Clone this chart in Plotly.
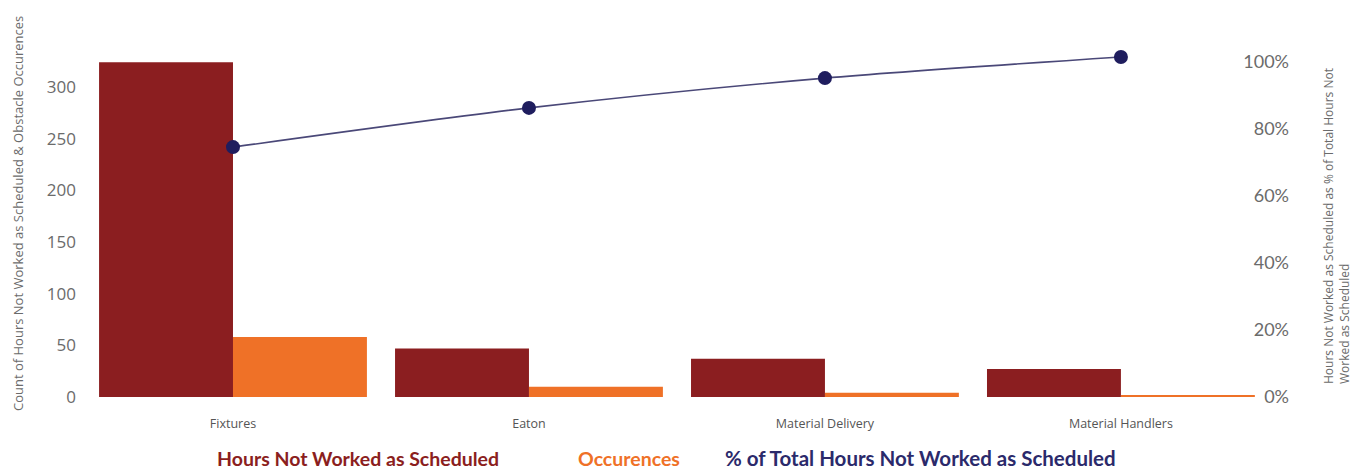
import plotly.graph_objects as go

categories = ["Fixtures", "Eaton", "Material Delivery", "Material Handlers"]
hours_not_worked = [324, 47, 37, 27]
occurences = [58, 10, 4, 2]
pct_total = [0.746, 0.863, 0.952, 1.015]

left_ticks = [0, 50, 100, 150, 200, 250, 300]
right_ticks = [0, 0.2, 0.4, 0.6, 0.8, 1.0]

RED = "#8B1E20"
ORANGE = "#EF7127"
NAVY = "#1F1D5E"
LINE = "#4A4878"
GREY = "#6b6b6b"

fig = go.Figure()
fig.add_trace(go.Bar(x=categories, y=hours_not_worked, marker_color=RED,
                     name="Hours Not Worked as Scheduled", marker_line_width=0))
fig.add_trace(go.Bar(x=categories, y=occurences, marker_color=ORANGE,
                     name="Occurences", marker_line_width=0))
fig.add_trace(go.Scatter(x=categories, y=pct_total, yaxis="y2", mode="lines+markers",
                         line=dict(color=LINE, width=1.6, shape="spline", smoothing=0.8),
                         marker=dict(color=NAVY, size=14),
                         name="% of Total Hours Not Worked as Scheduled"))

# plot area: top 46, bottom 414; zero line at 397
BOTTOM = 414
OFF = BOTTOM - 397
fig.update_layout(
    width=1356, height=470,
    margin=dict(l=85, r=64, t=46, b=470 - BOTTOM),
    paper_bgcolor="white", plot_bgcolor="white",
    barmode="group", bargap=0.095, bargroupgap=0,
    showlegend=False,
    font=dict(family="Open Sans", color=GREY),
    xaxis=dict(range=[-0.5, 3.578], showgrid=False, zeroline=False, showline=False,
               ticks="", ticklabelstandoff=0, tickfont=dict(size=12.5, color="#555555")),
    yaxis=dict(range=[-OFF / 1.0333, 339.7], tickvals=left_ticks, showgrid=False, zeroline=False,
               showline=False, ticks="", ticklabelstandoff=8,
               tickfont=dict(size=17, color=GREY)),
    yaxis2=dict(range=[-OFF / 335.0, 1.0478], tickvals=right_ticks, tickformat=".0%", overlaying="y",
                side="right", showgrid=False, zeroline=False, showline=False, ticks="",
                ticklabelposition="inside", tickfont=dict(size=18, color=GREY, family="Lato")),
)

H = float(BOTTOM - 46)
def px_x(px):
    return (px - 85) / 1207

def px_y(py):
    return (BOTTOM - py) / H

annotations = [
    dict(text="Count of Hours Not Worked as Scheduled & Obstacle Occurences",
         x=px_x(18), y=px_y(214), textangle=-90, font=dict(size=13, color=GREY)),
    dict(text="Hours Not Worked as Scheduled as % of Total Hours Not<br>Worked as Scheduled",
         x=px_x(1337), y=px_y(226), textangle=-90, align="left",
         font=dict(size=12, color=GREY)),
    dict(text="Hours Not Worked as Scheduled", x=px_x(358), y=px_y(458),
         font=dict(size=19.5, color=RED, family="Lato", weight="bold")),
    dict(text="Occurences", x=px_x(629), y=px_y(458),
         font=dict(size=19.5, color=ORANGE, family="Lato", weight="bold")),
    dict(text="% of Total Hours Not Worked as Scheduled", x=px_x(920), y=px_y(458),
         font=dict(size=20.5, color="#2B2A6B", family="Lato", weight="bold")),
]
for a in annotations:
    a.update(xref="paper", yref="paper", showarrow=False, xanchor="center", yanchor="middle")
    fig.add_annotation(**a)

fig.write_html("out.html")
